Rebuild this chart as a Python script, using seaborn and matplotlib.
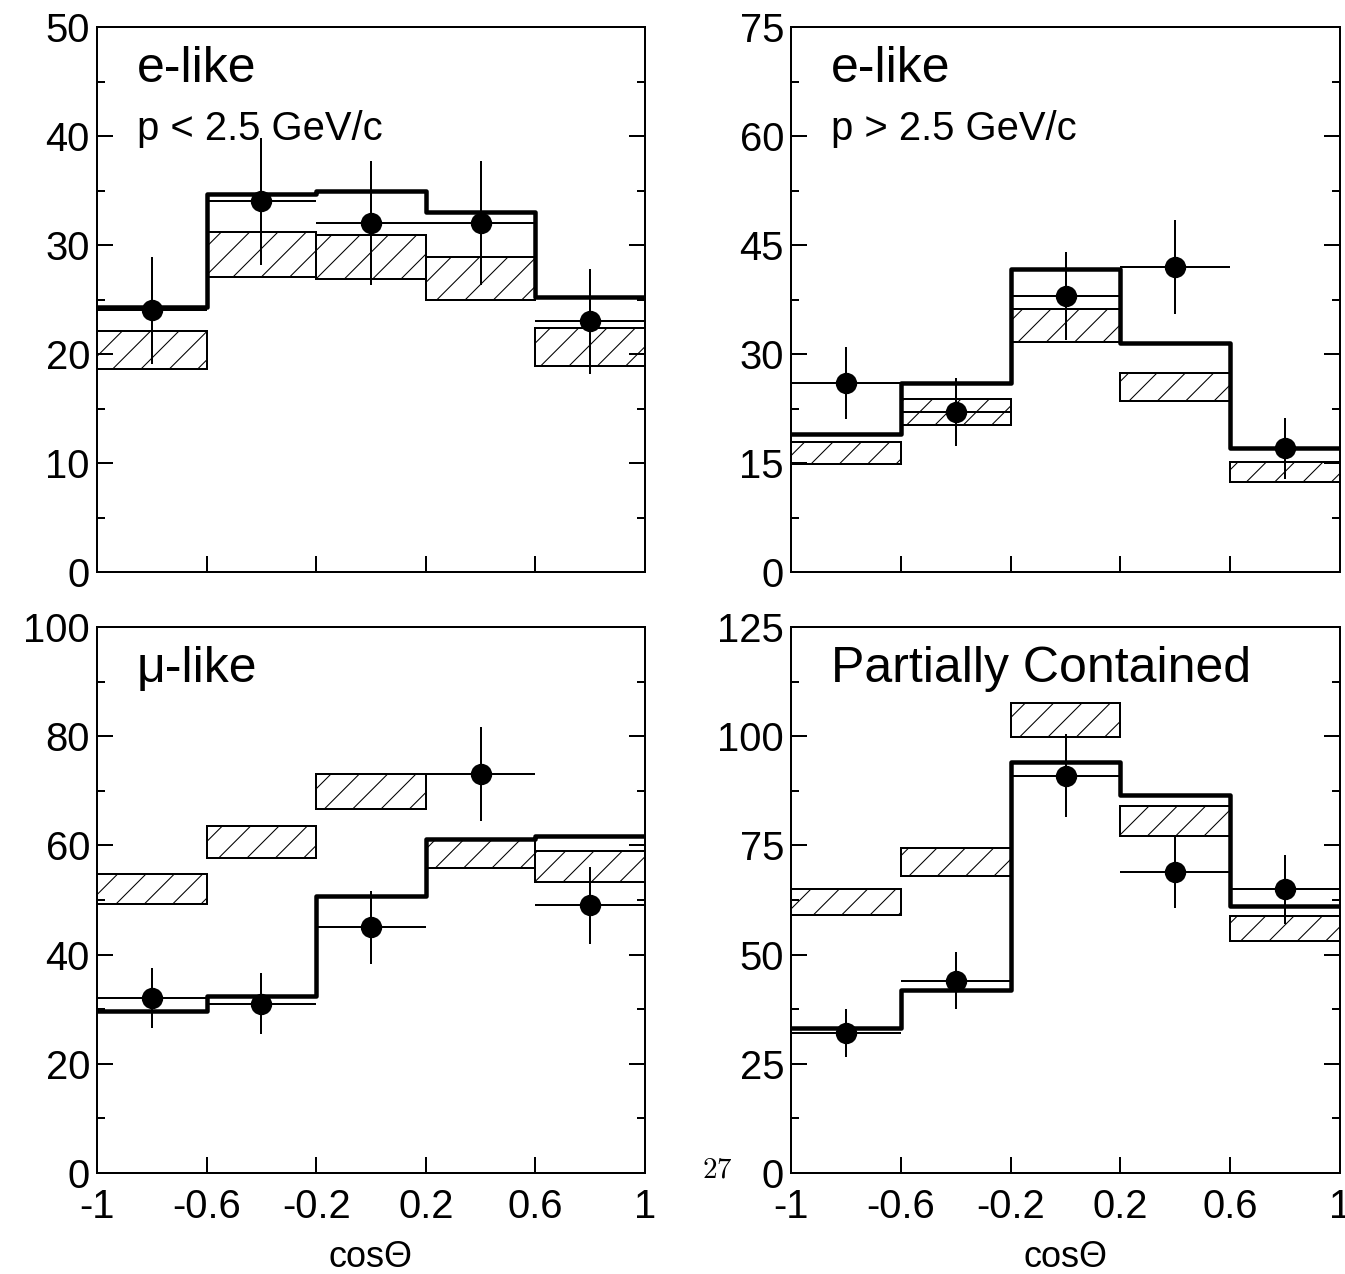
import numpy as np
import pandas as pd
import matplotlib
matplotlib.use("Agg")
import matplotlib.pyplot as plt
from matplotlib.ticker import MultipleLocator
import seaborn as sns

# ---------------- data ----------------
bin_edges = [-1.0, -0.6, -0.2, 0.2, 0.6, 1.0]
bin_centers = [-0.8, -0.4, 0.0, 0.4, 0.8]
xtick_labels = ["-1", "-0.6", "-0.2", "0.2", "0.6", "1"]

# e-like, p < 2.5 GeV/c
elow_data = [24, 34, 32, 32, 23]
elow_err = [4.9, 5.8, 5.7, 5.7, 4.8]
elow_mc_lo = [18.6, 27.1, 26.9, 25.0, 18.9]
elow_mc_hi = [22.1, 31.2, 30.9, 28.9, 22.4]
elow_fit = [24.3, 34.7, 35.0, 33.0, 25.2]

# e-like, p > 2.5 GeV/c
ehigh_data = [26, 22, 38, 42, 17]
ehigh_err = [5.0, 4.7, 6.1, 6.5, 4.2]
ehigh_mc_lo = [14.9, 20.2, 31.7, 23.5, 12.4]
ehigh_mc_hi = [17.9, 23.8, 36.2, 27.4, 15.1]
ehigh_fit = [19.0, 26.0, 41.7, 31.5, 17.1]

# mu-like
mu_data = [32, 31, 45, 73, 49]
mu_err = [5.5, 5.6, 6.7, 8.6, 7.0]
mu_mc_lo = [49.3, 57.7, 66.7, 55.9, 53.3]
mu_mc_hi = [54.8, 63.6, 73.1, 61.2, 59.0]
mu_fit = [29.7, 32.4, 50.7, 61.2, 61.7]

# partially contained
pc_data = [32, 44, 91, 69, 65]
pc_err = [5.5, 6.5, 9.4, 8.3, 7.9]
pc_mc_lo = [59.1, 68.0, 99.8, 77.2, 53.1]
pc_mc_hi = [65.0, 74.4, 107.6, 84.0, 58.8]
pc_fit = [33.2, 41.9, 94.1, 86.5, 61.1]

titles = ["e-like", "e-like", "\u03bc-like", "Partially Contained"]
subtitles = ["p < 2.5 GeV/c", "p > 2.5 GeV/c", None, None]
ymaxes = [50, 75, 100, 125]
ymajor = [10, 15, 20, 25]
xlabel = "cos\u0398"
page_number = "27"

# ---------------- style ----------------
DPI = 170
sns.set_theme(style="ticks")
plt.rcParams["font.family"] = ["Liberation Sans", "DejaVu Sans"]
plt.rcParams["mathtext.fontset"] = "cm"
plt.rcParams["hatch.linewidth"] = 0.45
plt.rcParams["hatch.color"] = "black"
for key in ["text.color", "axes.labelcolor", "xtick.color", "ytick.color",
            "axes.edgecolor"]:
    plt.rcParams[key] = "black"

px = 72.0 / DPI  # points per pixel

fig = plt.figure(figsize=(1345 / DPI, 1274 / DPI), dpi=DPI)
W, H = 1345.0, 1274.0
boxes = [
    (97, 27, 645, 572),
    (791, 27, 1340, 572),
    (97, 627, 645, 1173),
    (791, 627, 1340, 1173),
]

datasets = [
    (elow_data, elow_err, elow_mc_lo, elow_mc_hi, elow_fit),
    (ehigh_data, ehigh_err, ehigh_mc_lo, ehigh_mc_hi, ehigh_fit),
    (mu_data, mu_err, mu_mc_lo, mu_mc_hi, mu_fit),
    (pc_data, pc_err, pc_mc_lo, pc_mc_hi, pc_fit),
]

for i, (box, ds) in enumerate(zip(boxes, datasets)):
    x0, y0, x1, y1 = box
    ax = fig.add_axes([x0 / W, (H - y1) / H, (x1 - x0) / W, (y1 - y0) / H])
    data, err, lo, hi, fit = ds
    df = pd.DataFrame({"x": bin_centers, "data": data, "err": err,
                       "lo": lo, "hi": hi, "fit": fit})

    # hatched MC (no oscillation) boxes
    ax.bar(df["x"], df["hi"] - df["lo"], bottom=df["lo"], width=0.4,
           fill=False, hatch="//", edgecolor="black", linewidth=2.0 * px,
           zorder=2)

    # best-fit oscillation histogram (thick step line)
    sns.histplot(data=df, x="x", weights="fit", bins=bin_edges,
                 element="step", fill=False, color="black",
                 linewidth=4.5 * px, ax=ax, zorder=3)

    # data points
    ax.errorbar(df["x"], df["data"], xerr=0.2, yerr=df["err"], fmt="o",
                color="black", markersize=19 * px, elinewidth=2.0 * px,
                capsize=0, zorder=4)

    ax.set_xlim(-1, 1)
    ax.set_ylim(0, ymaxes[i])
    ax.set_xticks(bin_edges)
    ax.yaxis.set_major_locator(MultipleLocator(ymajor[i]))
    ax.yaxis.set_minor_locator(MultipleLocator(ymajor[i] / 2))
    ax.set_ylabel("")
    ax.set_xlabel("")
    for s in ax.spines.values():
        s.set_visible(True)
        s.set_linewidth(2.0 * px)
        s.set_color("black")
    ax.tick_params(axis="both", which="both", direction="in", colors="black",
                   width=2.0 * px)
    ax.tick_params(axis="y", which="major", length=16 * px, left=True,
                   right=True, labelsize=40 * px, pad=7 * px)
    ax.tick_params(axis="y", which="minor", length=8 * px, left=True,
                   right=True)
    ax.tick_params(axis="x", which="major", length=16 * px, bottom=True,
                   top=False, labelsize=40 * px, pad=15 * px)
    ax.tick_params(axis="x", which="minor", bottom=False, top=False)
    if i >= 2:
        ax.set_xticklabels(xtick_labels)
        ax.set_xlabel(xlabel, fontsize=36 * px, labelpad=14 * px)
    else:
        ax.set_xticklabels([])

    ax.text(0.073, 0.90, titles[i], transform=ax.transAxes,
            fontsize=50 * px, ha="left", va="baseline")
    if subtitles[i]:
        ax.text(0.073, 0.793, subtitles[i], transform=ax.transAxes,
                fontsize=40 * px, ha="left", va="baseline")

fig.text(717 / W, (H - 1177) / H, r"$" + page_number + r"$",
         fontsize=29 * px, ha="center", va="baseline")

fig.savefig("out.png", dpi=DPI, facecolor="white")
